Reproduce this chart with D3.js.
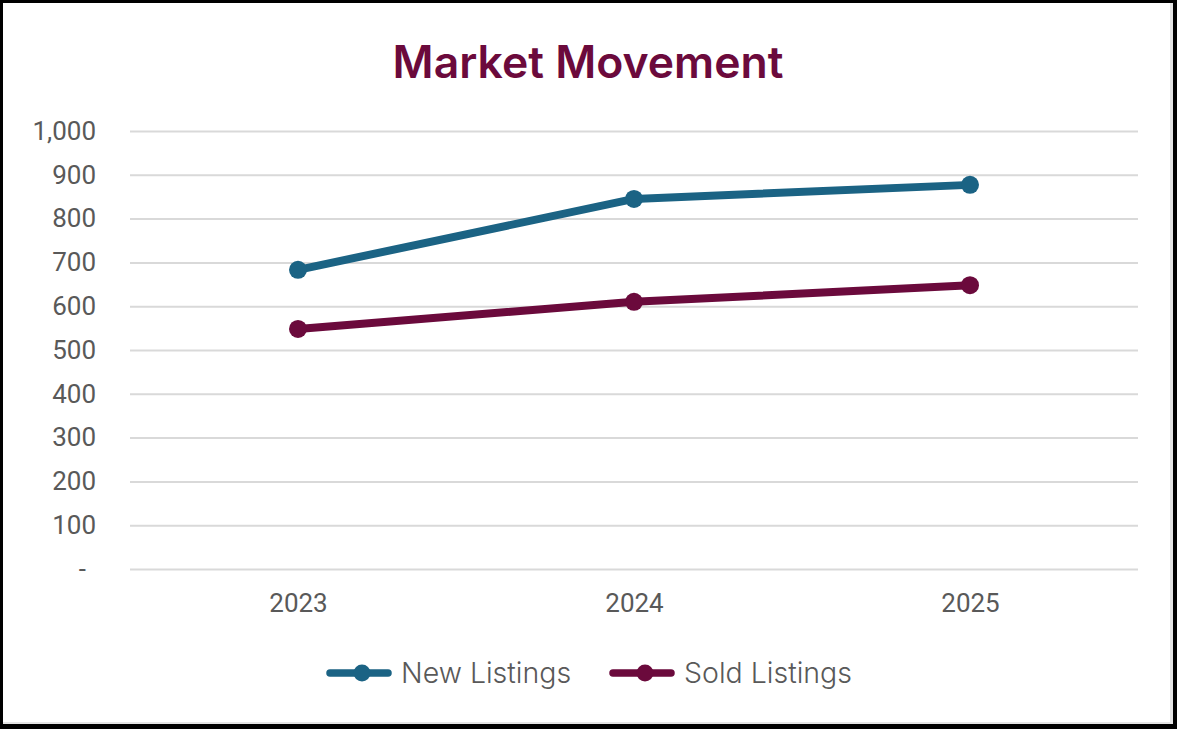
<!DOCTYPE html>
<html><head><meta charset="utf-8">
<script src="https://cdn.jsdelivr.net/npm/d3@7"></script>
<style>html,body{margin:0;padding:0;background:#fff;}</style>
</head><body>
<svg id="chart" width="1177" height="729"></svg>
<script>
const categories = ["2023", "2024", "2025"];
const newListings = [683, 845, 877];
const soldListings = [548, 610, 648];
const seriesNames = ["New Listings", "Sold Listings"];
const yTicks = [0, 100, 200, 300, 400, 500, 600, 700, 800, 900, 1000];
const colors = ["#1b6384", "#6b0a3c"];

const svg = d3.select("#chart");
const W = 1177, H = 729;
svg.append("rect").attr("x",0).attr("y",0).attr("width",W).attr("height",H).attr("fill","#000");
svg.append("rect").attr("x",3).attr("y",3).attr("width",W-7).attr("height",H-8).attr("fill","#e4e4e4");
svg.append("rect").attr("x",3).attr("y",3).attr("width",W-10).attr("height",H-10).attr("fill","#fff");

const x = d3.scalePoint().domain(categories).range([130, 1138]).padding(0.5);
const y = d3.scaleLinear().domain([0, 1000]).range([569, 131]);

svg.append("text").attr("x", 588).attr("y", 78).attr("text-anchor","middle")
  .attr("font-family","Inter, 'Noto Sans', sans-serif").attr("font-weight",600)
  .attr("font-size",44.5).attr("fill","#6b0a3c").text("Market Movement");

// grid
const grid = svg.append("g").attr("transform","translate(130,0)")
  .call(d3.axisLeft(y).tickValues(yTicks).tickSize(-(1138-130)).tickFormat(""));
grid.select(".domain").remove();
grid.selectAll("line").attr("stroke","#d9d9d9").attr("stroke-width",2);

const fmt = d => d === 0 ? "-" : d3.format(",")(d);
const yAxis = svg.append("g").attr("transform","translate(96,0)")
  .call(d3.axisLeft(y).tickValues(yTicks).tickSize(0).tickPadding(0).tickFormat(fmt));
yAxis.select(".domain").remove();
yAxis.selectAll("text").attr("font-family","Roboto, sans-serif").attr("font-size",26).attr("fill","#595959")
  .attr("text-anchor","end").attr("dx", d => d === 0 ? -10 : 0);

const xAxis = svg.append("g").attr("transform","translate(0,594)")
  .call(d3.axisBottom(x).tickSize(0).tickPadding(0));
xAxis.select(".domain").remove();
xAxis.selectAll("text").attr("font-family","Roboto, sans-serif").attr("font-size",26).attr("fill","#595959");

const data = [newListings, soldListings];
const line = d3.line().x((d,i)=>x(categories[i])).y(d=>y(d));
data.forEach((vals, k) => {
  svg.append("path").datum(vals).attr("d", line).attr("fill","none")
    .attr("stroke", colors[k]).attr("stroke-width",8).attr("stroke-linecap","round").attr("stroke-linejoin","round");
  svg.selectAll(null).data(vals).enter().append("circle")
    .attr("cx",(d,i)=>x(categories[i])).attr("cy",d=>y(d)).attr("r",9).attr("fill",colors[k]);
});

// legend
const legX = [330, 613];
seriesNames.forEach((name,k)=>{
  const g = svg.append("g").attr("transform",`translate(${legX[k]},673)`);
  g.append("line").attr("x1",0).attr("x2",58).attr("y1",0).attr("y2",0)
    .attr("stroke",colors[k]).attr("stroke-width",7.5).attr("stroke-linecap","round");
  g.append("circle").attr("cx",32).attr("cy",0).attr("r",8.5).attr("fill",colors[k]);
  g.append("text").attr("x",71).attr("y",10).attr("font-family","Inter, 'Noto Sans', sans-serif")
    .attr("font-weight",300).attr("font-size",28.5).attr("fill","#595959").text(name);
});
</script>
</body></html>
